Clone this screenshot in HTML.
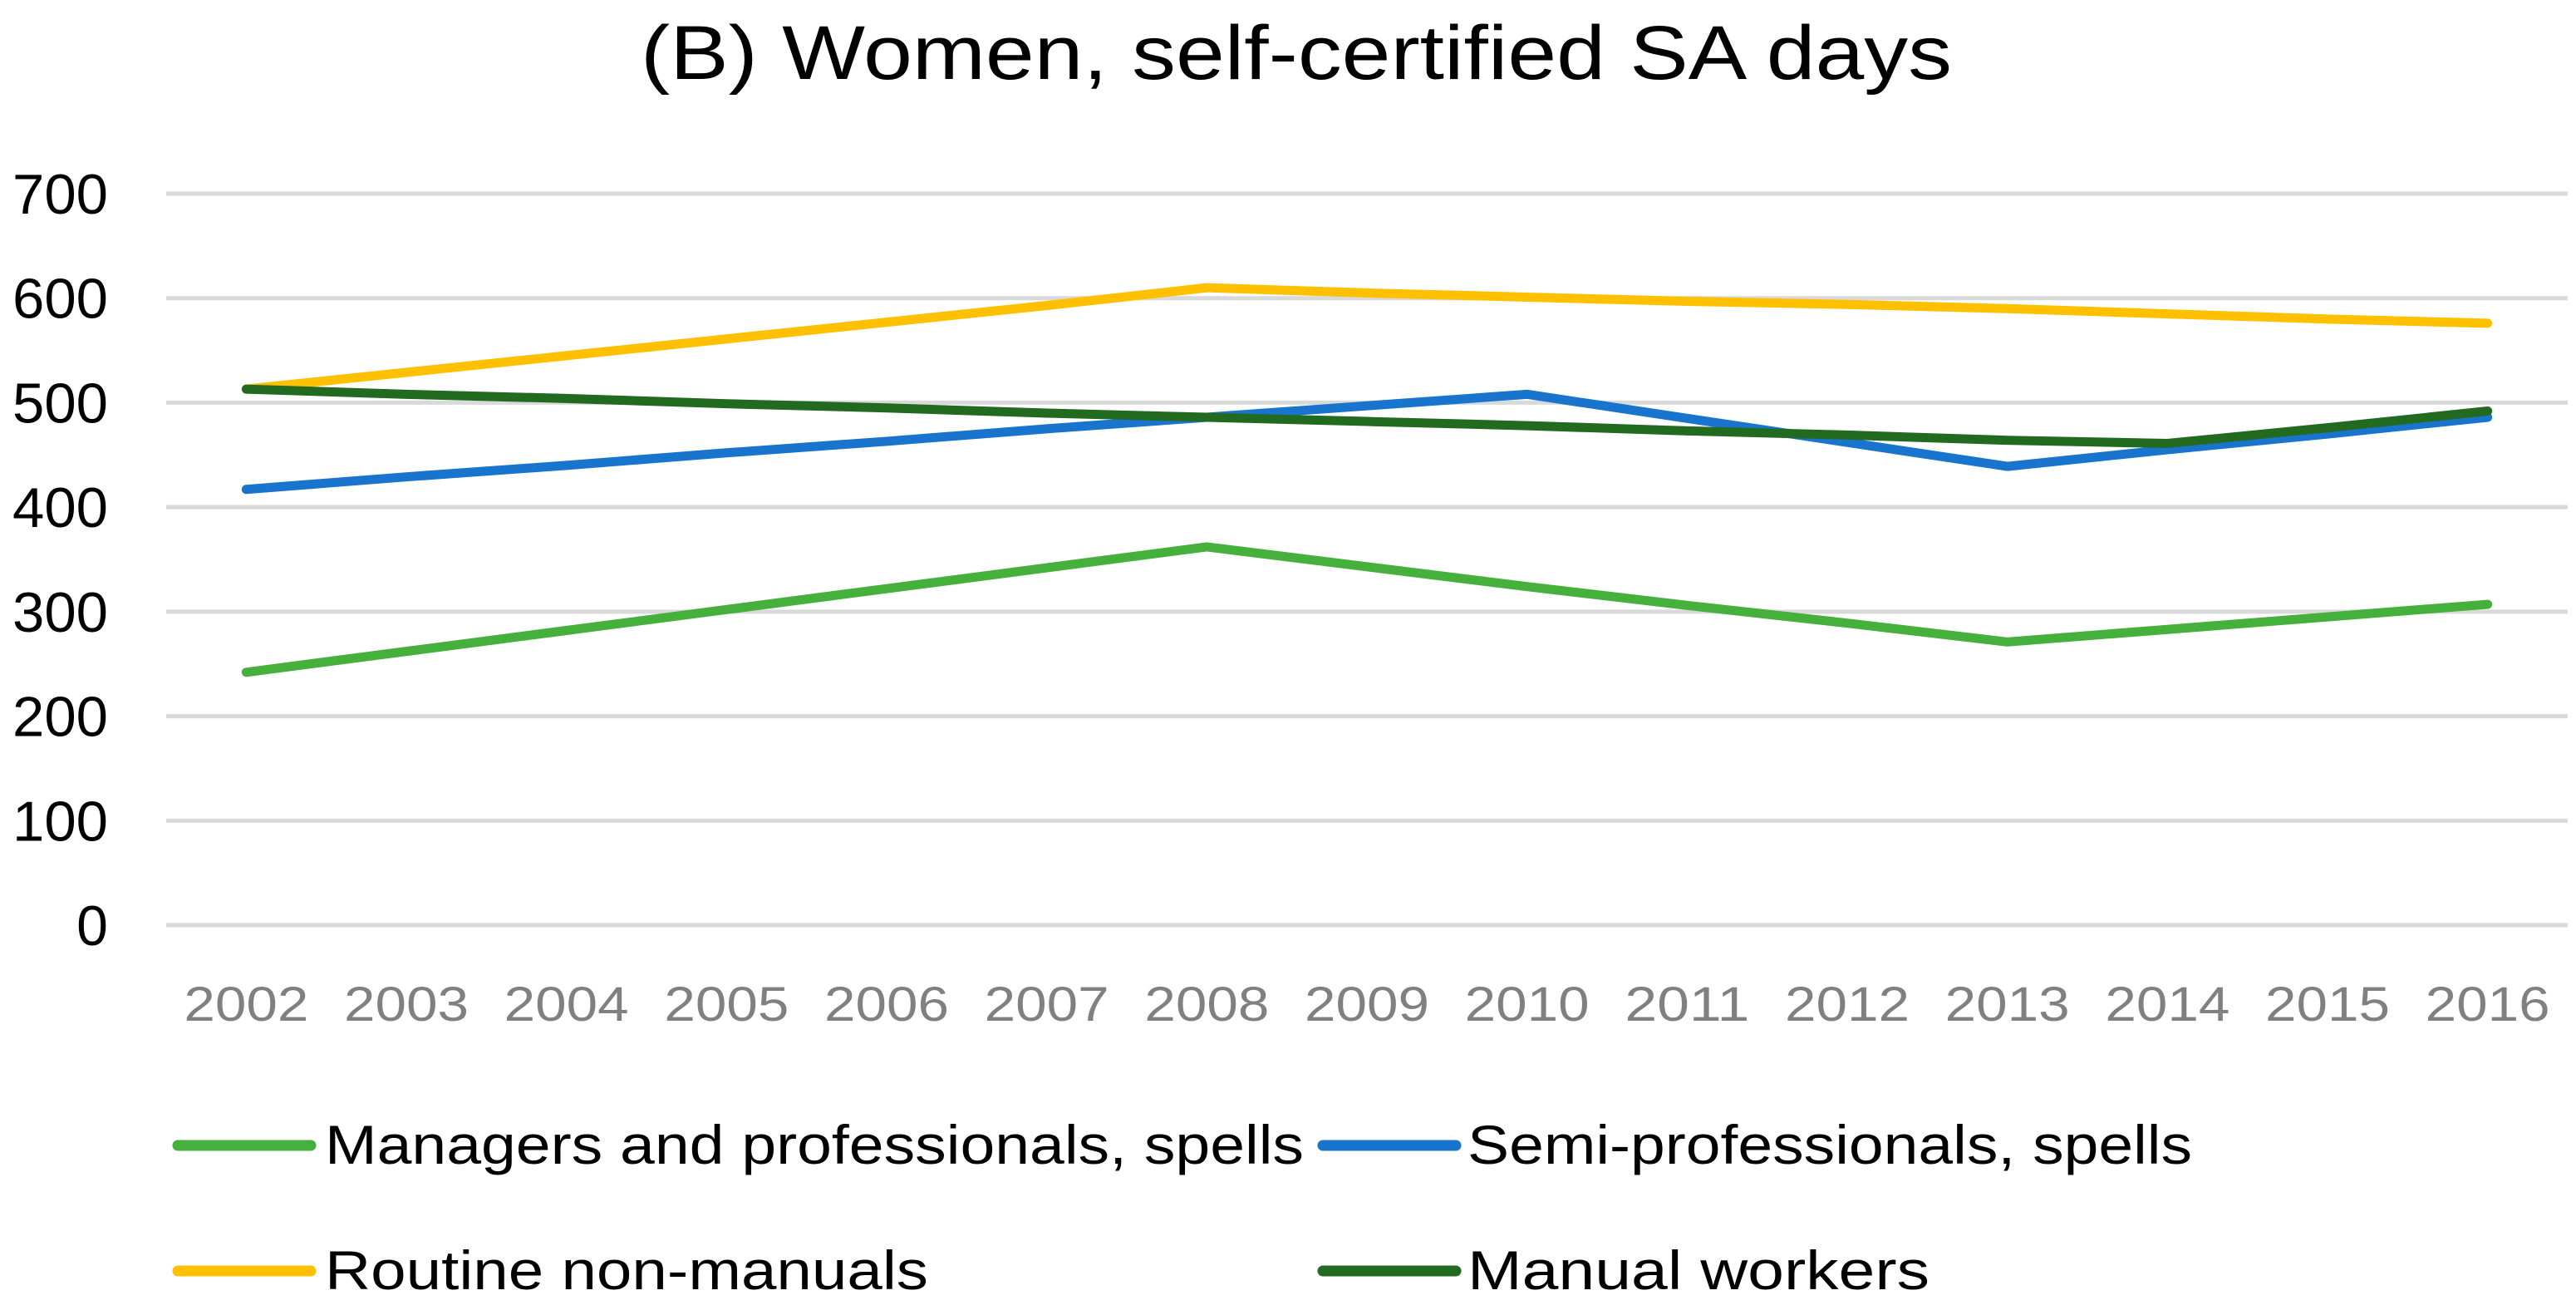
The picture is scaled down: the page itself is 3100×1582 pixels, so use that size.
<!DOCTYPE html>
<html><head><meta charset="utf-8"><style>
html,body{margin:0;padding:0;background:#fff;}
svg{display:block;font-family:"Liberation Sans",sans-serif;}
</style></head><body>
<svg id="chart" width="3100" height="1582" viewBox="0 0 3100 1582" xmlns="http://www.w3.org/2000/svg">
<text x="1560" y="95" font-size="92" text-anchor="middle" textLength="1578" lengthAdjust="spacingAndGlyphs" fill="#000">(B) Women, self-certified SA days</text>
<g id="grid"></g><g id="yt"></g><g id="xt"></g><g id="lines"></g>
<g>
<g>
<line x1="214" y1="1378" x2="374" y2="1378" stroke="#45B03C" stroke-width="13" stroke-linecap="round"/>
<text x="391" y="1400" font-size="66" textLength="1178" lengthAdjust="spacingAndGlyphs">Managers and professionals, spells</text></g>
<g>
<line x1="1592" y1="1378" x2="1752" y2="1378" stroke="#1874CD" stroke-width="13" stroke-linecap="round"/>
<text x="1766" y="1400" font-size="66" textLength="872" lengthAdjust="spacingAndGlyphs">Semi-professionals, spells</text></g>
<g>
<line x1="214" y1="1529" x2="374" y2="1529" stroke="#FFC000" stroke-width="13" stroke-linecap="round"/>
<text x="391" y="1551" font-size="66" textLength="726" lengthAdjust="spacingAndGlyphs">Routine non-manuals</text></g>
<g>
<line x1="1592" y1="1529" x2="1752" y2="1529" stroke="#236A21" stroke-width="13" stroke-linecap="round"/>
<text x="1766" y="1551" font-size="66" textLength="556" lengthAdjust="spacingAndGlyphs">Manual workers</text></g>
</g>
</svg>
<script>
const years = ["2002","2003","2004","2005","2006","2007","2008","2009","2010","2011","2012","2013","2014","2015","2016"];
const yTicks = [0,100,200,300,400,500,600,700];
const managers = [242,262,282,302,322,342,362,343,324,306,289,271,283,295,307];
const semiProf = [417,429,440,452,463,475,486,497,508,485,462,439,455,470,486];
const routine = [513,529,545,561,577,593,610,605,601,597,594,590,585,580,576];
const manual = [513,508,504,499,495,490,486,482,478,473,469,464,461,476,492];

const NS="http://www.w3.org/2000/svg";
const L=200,R=3090,T=233,B=1113;
const band=(R-L)/years.length;
const xs=i=>L+band*(i+0.5);
const ys=v=>B-(v/700)*(B-T);
function mk(t,a,p){const e=document.createElementNS(NS,t);for(const k in a)e.setAttribute(k,a[k]);p.appendChild(e);return e;}
const grid=document.getElementById('grid'),yt=document.getElementById('yt'),xt=document.getElementById('xt'),lines=document.getElementById('lines');
yTicks.forEach(v=>{
  const g=mk('line',{x1:L,x2:R,y1:ys(v),y2:ys(v),stroke:'#d9d9d9','stroke-width':5},grid);
  
  
  const s=String(v);
  const a={x:130,y:ys(v)+24,'font-size':68,'text-anchor':'end',fill:'#000'};
  if(s.length===3){a.textLength=115;a.lengthAdjust='spacingAndGlyphs';}
  const t=mk('text',a,yt);
  t.textContent=s;
  
  
});
years.forEach((y,i)=>{
  const t=mk('text',{x:xs(i),y:1228,'font-size':58,'text-anchor':'middle',fill:'#808080',textLength:150,lengthAdjust:'spacingAndGlyphs'},xt);
  t.textContent=y;
  
  
});
[[managers,'#45B03C','managers-line'],[semiProf,'#1874CD','semi-professionals-line'],[routine,'#FFC000','routine-non-manuals-line'],[manual,'#236A21','manual-workers-line']].forEach(([d,c,n])=>{
  const p=mk('polyline',{points:d.map((v,i)=>xs(i)+','+ys(v)).join(' '),fill:'none',stroke:c,'stroke-width':11,'stroke-linecap':'round','stroke-linejoin':'round'},lines);
  
  
});
</script>
</body></html>
